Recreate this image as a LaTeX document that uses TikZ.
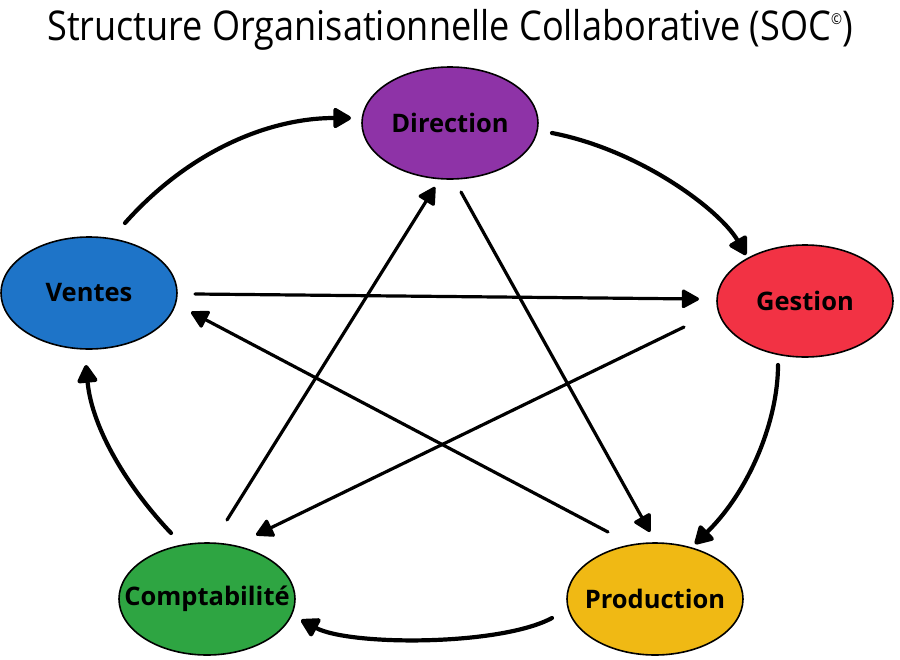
\documentclass[tikz,border=0pt]{standalone}
\usepackage{fontspec}
\setmainfont{Open Sans}
\newfontfamily\titlefont[FakeStretch=0.88]{Open Sans}
\usetikzlibrary{shapes.geometric,arrows.meta}
\definecolor{cdir}{RGB}{142,51,167}
\definecolor{cges}{RGB}{242,50,68}
\definecolor{cven}{RGB}{30,116,200}
\definecolor{cpro}{RGB}{240,185,20}
\definecolor{ccom}{RGB}{46,165,66}
\begin{document}
\begin{tikzpicture}[x=1pt,y=-1pt,
  unit/.style={ellipse,draw=black,line width=1.6pt,minimum width=176pt,minimum height=112pt,inner sep=0pt,
    font=\fontsize{25.5}{27}\selectfont\bfseries,text=black},
  curvearrow/.style={line width=4.2pt,line cap=round,-{Triangle[length=20pt,width=22pt,round]}},
  straightarrow/.style={line width=3.2pt,line cap=round,-{Triangle[length=19pt,width=20pt,round]}}]
\useasboundingbox (0,0) rectangle (900,659);
\node[anchor=base,inner sep=0pt,font=\titlefont\fontsize{41}{43}\selectfont] (title) at (450,40) {Structure Organisationnelle Collaborative (SOC{\fontsize{15}{15}\selectfont\raisebox{16pt}{©}})};
\node[unit,fill=cdir] (dir) at (450,123) {\makebox[0pt]{Direction}};
\node[unit,fill=cges] (ges) at (805,301) {\makebox[0pt]{Gestion}};
\node[unit,fill=cven] (ven) at (89,293) {\makebox[0pt]{Ventes}};
\node[unit,fill=cpro] (pro) at (655,599) {\makebox[0pt]{Production}};
\node[unit,fill=ccom] (com) at (207,599) {\makebox[0pt]{Comptabilité}};
% free ends of the connectors
\coordinate (a1s) at (125,223); \coordinate (a1e) at (351,118);
\coordinate (a2s) at (552,133); \coordinate (a2e) at (746,255);
\coordinate (a3s) at (778,365); \coordinate (a3e) at (695,544);
\coordinate (a4s) at (552,618); \coordinate (a4e) at (301,620);
\coordinate (a5s) at (171,533); \coordinate (a5e) at (86,365);
\coordinate (b1s) at (195,294); \coordinate (b1e) at (699,299);
\coordinate (b2s) at (608,532); \coordinate (b2e) at (191,312);
\coordinate (b3s) at (227,520); \coordinate (b3e) at (435,187);
\coordinate (b4s) at (461,192); \coordinate (b4e) at (650,532);
\coordinate (b5s) at (684,327); \coordinate (b5e) at (256,535);
% cycle
\draw[curvearrow] (a1s) .. controls (190,150) and (270,118) .. (a1e);
\draw[curvearrow] (a2s) .. controls (640,150) and (720,210) .. (a2e);
\draw[curvearrow] (a3s) .. controls (778,420) and (750,490) .. (a3e);
\draw[curvearrow] (a4s) .. controls (500,646) and (350,646) .. (a4e);
\draw[curvearrow] (a5s) .. controls (130,490) and (92,430) .. (a5e);
% star
\draw[straightarrow] (b1s) -- (b1e);
\draw[straightarrow] (b2s) -- (b2e);
\draw[straightarrow] (b3s) -- (b3e);
\draw[straightarrow] (b4s) -- (b4e);
\draw[straightarrow] (b5s) -- (b5e);
\end{tikzpicture}
\end{document}
